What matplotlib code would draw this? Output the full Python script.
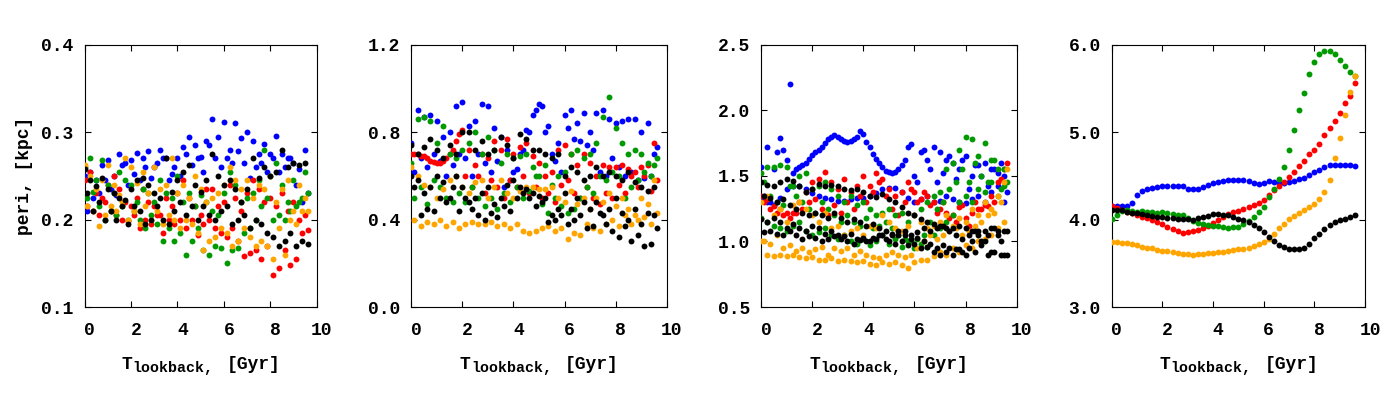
import matplotlib
matplotlib.use('Agg')
import matplotlib.pyplot as plt
from matplotlib import transforms
from matplotlib.ticker import FormatStrFormatter

# ---------------- time grids (Gyr) ----------------
TA = [0.0, 0.25, 0.5, 0.75, 1.0, 1.25, 1.5, 1.75, 2.0, 2.25,
      2.5, 2.75, 3.0, 3.25, 3.5, 3.75, 4.0, 4.25, 4.5, 4.75,
      5.0, 5.25, 5.5, 5.75, 6.0, 6.25, 6.5, 6.75, 7.0, 7.25,
      7.5, 7.75, 8.0, 8.25, 8.5, 8.75, 9.0, 9.25, 9.5]
TB = [0.12, 0.37, 0.62, 0.87, 1.12, 1.37, 1.62, 1.87, 2.12, 2.37,
      2.62, 2.87, 3.12, 3.37, 3.62, 3.87, 4.12, 4.37, 4.62, 4.87,
      5.12, 5.37, 5.62, 5.87, 6.12, 6.37, 6.62, 6.87, 7.12, 7.37,
      7.62, 7.87, 8.12, 8.37, 8.62, 8.87, 9.12, 9.37, 9.62]
T4 = [0.0, 0.2, 0.4, 0.6, 0.8, 1.0, 1.2, 1.4, 1.6, 1.8,
      2.0, 2.2, 2.4, 2.6, 2.8, 3.0, 3.2, 3.4, 3.6, 3.8,
      4.0, 4.2, 4.4, 4.6, 4.8, 5.0, 5.2, 5.4, 5.6, 5.8,
      6.0, 6.2, 6.4, 6.6, 6.8, 7.0, 7.2, 7.4, 7.6, 7.8,
      8.0, 8.2, 8.4, 8.6, 8.8, 9.0, 9.2, 9.4, 9.6]

# ---------------- panel 1 : peri [kpc] ----------------
P1_BLUE_A = [0.250,0.255,0.245,0.262,0.268,0.250,0.275,0.265,0.268,0.276,
             0.270,0.278,0.260,0.280,0.270,0.252,0.270,0.283,0.295,0.285,
             0.272,0.290,0.315,0.295,0.312,0.280,0.310,0.293,0.300,0.290,
             0.275,0.287,0.275,0.296,0.275,0.270,0.265,0.258,0.280]
P1_BLUE_B = [0.210,0.225,0.230,0.245,0.235,0.228,0.262,0.240,0.252,0.245,
             0.260,0.248,0.265,0.270,0.245,0.260,0.250,0.275,0.262,0.270,
             0.255,0.285,0.270,0.260,0.270,0.265,0.278,0.265,0.248,0.260,
             0.265,0.255,0.270,0.255,0.260,0.270,0.240,0.220,0.230]
P1_RED_A = [0.245,0.255,0.230,0.225,0.240,0.250,0.235,0.220,0.215,0.225,
            0.235,0.220,0.215,0.205,0.225,0.215,0.230,0.245,0.225,0.215,
            0.205,0.235,0.235,0.215,0.220,0.240,0.225,0.210,0.230,0.245,
            0.235,0.220,0.225,0.215,0.230,0.210,0.220,0.200,0.205]
P1_RED_B = [0.215,0.210,0.205,0.220,0.210,0.205,0.200,0.198,0.205,0.190,
            0.200,0.195,0.205,0.185,0.200,0.195,0.200,0.190,0.200,0.182,
            0.195,0.200,0.190,0.185,0.180,0.190,0.175,0.158,0.162,0.165,
            0.155,0.170,0.137,0.145,0.165,0.148,0.155,0.185,0.188]
P1_GREEN_A = [0.260,0.270,0.245,0.268,0.240,0.230,0.255,0.245,0.240,0.220,
              0.235,0.230,0.220,0.245,0.230,0.225,0.250,0.220,0.230,0.215,
              0.228,0.220,0.210,0.205,0.230,0.255,0.240,0.220,0.225,0.230,
              0.245,0.280,0.250,0.265,0.240,0.220,0.245,0.220,0.255]
P1_GREEN_B = [0.225,0.232,0.215,0.200,0.210,0.205,0.215,0.200,0.210,0.200,
              0.190,0.205,0.195,0.175,0.190,0.175,0.185,0.160,0.175,0.190,
              0.165,0.160,0.170,0.168,0.150,0.165,0.167,0.185,0.190,0.200,
              0.215,0.225,0.200,0.205,0.200,0.210,0.215,0.225,0.230]
P1_ORANGE_A = [0.262,0.250,0.235,0.245,0.262,0.240,0.228,0.270,0.260,0.242,
               0.255,0.230,0.260,0.235,0.240,0.270,0.230,0.240,0.225,0.250,
               0.235,0.220,0.225,0.230,0.240,0.260,0.245,0.235,0.245,0.225,
               0.240,0.235,0.250,0.220,0.235,0.245,0.210,0.240,0.225]
P1_ORANGE_B = [0.215,0.210,0.193,0.205,0.215,0.210,0.220,0.200,0.210,0.195,
               0.215,0.200,0.210,0.195,0.205,0.200,0.190,0.200,0.195,0.185,
               0.165,0.175,0.180,0.190,0.185,0.170,0.175,0.190,0.180,0.170,
               0.175,0.170,0.155,0.190,0.160,0.200,0.195,0.210,0.210]
P1_BLACK_A = [0.258,0.245,0.238,0.248,0.235,0.230,0.225,0.222,0.235,0.245,
              0.248,0.240,0.230,0.225,0.270,0.232,0.245,0.255,0.262,0.240,
              0.232,0.245,0.275,0.250,0.240,0.245,0.235,0.220,0.235,0.270,
              0.248,0.260,0.250,0.255,0.280,0.260,0.265,0.262,0.265]
P1_BLACK_B = [0.230,0.210,0.220,0.200,0.210,0.200,0.215,0.195,0.215,0.210,
              0.195,0.200,0.215,0.200,0.195,0.210,0.220,0.205,0.215,0.200,
              0.215,0.205,0.200,0.210,0.215,0.195,0.200,0.205,0.190,0.200,
              0.195,0.185,0.180,0.170,0.175,0.185,0.170,0.175,0.172]

# ---------------- panel 2 ----------------
P2_BLUE_A = [0.75,0.90,0.87,0.88,0.85,0.78,0.80,0.92,0.94,0.83,
             0.85,0.93,0.92,0.82,0.78,0.72,0.62,0.70,0.81,0.88,
             0.93,0.80,0.70,0.75,0.88,0.90,0.84,0.89,0.80,0.89,
             0.90,0.86,0.84,0.85,0.86,0.86,0.80,0.84,0.70]
P2_BLUE_B = [0.62,0.68,0.64,0.70,0.67,0.60,0.65,0.70,0.68,0.60,
             0.70,0.66,0.62,0.67,0.55,0.58,0.63,0.72,0.80,0.90,
             0.92,0.83,0.67,0.62,0.82,0.77,0.76,0.74,0.72,0.62,
             0.60,0.68,0.64,0.60,0.62,0.58,0.59,0.60,0.73]
P2_RED_A = [0.70,0.70,0.69,0.67,0.66,0.67,0.70,0.76,0.81,0.72,
            0.65,0.70,0.68,0.76,0.72,0.77,0.70,0.73,0.75,0.69,
            0.66,0.60,0.62,0.72,0.74,0.70,0.65,0.70,0.66,0.60,
            0.65,0.64,0.64,0.65,0.63,0.62,0.64,0.65,0.75]
P2_RED_B = [0.70,0.69,0.68,0.665,0.66,0.68,0.72,0.79,0.60,0.55,
            0.60,0.52,0.58,0.55,0.50,0.58,0.55,0.60,0.52,0.55,
            0.50,0.52,0.48,0.56,0.58,0.52,0.50,0.55,0.50,0.47,
            0.52,0.50,0.56,0.52,0.60,0.55,0.60,0.53,0.58]
P2_GREEN_A = [0.66,0.86,0.87,0.85,0.75,0.83,0.70,0.68,0.72,0.75,
              0.80,0.70,0.78,0.72,0.66,0.70,0.68,0.69,0.70,0.64,
              0.60,0.65,0.56,0.60,0.62,0.70,0.72,0.68,0.70,0.75,
              0.87,0.96,0.82,0.75,0.70,0.72,0.70,0.66,0.65]
P2_GREEN_B = [0.50,0.55,0.47,0.58,0.55,0.50,0.48,0.52,0.48,0.55,
              0.50,0.46,0.50,0.45,0.52,0.48,0.55,0.50,0.53,0.60,
              0.47,0.43,0.50,0.46,0.43,0.45,0.50,0.55,0.52,0.60,
              0.58,0.62,0.60,0.50,0.55,0.58,0.62,0.60,0.68]
P2_ORANGE_A = [0.64,0.60,0.56,0.55,0.50,0.54,0.58,0.60,0.55,0.52,
               0.57,0.58,0.50,0.55,0.58,0.52,0.50,0.53,0.55,0.55,
               0.54,0.54,0.55,0.50,0.48,0.53,0.47,0.50,0.45,0.50,
               0.48,0.52,0.46,0.50,0.45,0.42,0.50,0.47,0.58]
P2_ORANGE_B = [0.40,0.37,0.39,0.38,0.40,0.37,0.39,0.36,0.38,0.39,
               0.38,0.38,0.39,0.37,0.38,0.36,0.38,0.35,0.34,0.35,
               0.36,0.37,0.35,0.36,0.31,0.34,0.33,0.38,0.36,0.35,
               0.38,0.40,0.37,0.42,0.38,0.40,0.41,0.38,0.43]
P2_BLACK_A = [0.74,0.70,0.73,0.77,0.72,0.68,0.74,0.70,0.80,0.80,
              0.72,0.76,0.70,0.72,0.78,0.74,0.68,0.79,0.77,0.72,
              0.72,0.70,0.68,0.70,0.60,0.64,0.62,0.58,0.60,0.64,
              0.60,0.62,0.60,0.58,0.62,0.57,0.55,0.53,0.55]
P2_BLACK_B = [0.55,0.42,0.45,0.44,0.50,0.48,0.55,0.44,0.50,0.45,
              0.42,0.40,0.43,0.41,0.46,0.44,0.50,0.52,0.50,0.46,
              0.48,0.39,0.40,0.42,0.38,0.40,0.42,0.36,0.37,0.43,
              0.38,0.35,0.32,0.37,0.30,0.33,0.28,0.29,0.36]
P2_BLACK_C = [0.60,0.58,0.52,0.55,0.60,0.57,0.50,0.60,0.55,0.48,
              0.50,0.52,0.55,0.47,0.50,0.56,0.58,0.55,0.54,0.52,
              0.51,0.50,0.42,0.45,0.52,0.45,0.50,0.48,0.45,0.48,
              0.42,0.45,0.50,0.43,0.40,0.45,0.38,0.43,0.42]

# ---------------- panel 3 ----------------
P3_BLUE_A = [1.57,1.72,1.55,1.79,1.62,1.52,1.57,1.60,1.66,1.70,
             1.75,1.80,1.80,1.77,1.77,1.80,1.82,1.72,1.63,1.57,
             1.53,1.53,1.58,1.72,1.50,1.68,1.62,1.72,1.68,1.62,
             1.60,1.55,1.65,1.50,1.58,1.60,1.55,1.52,1.50]
P3_BLUE_B = [1.35,1.30,1.68,1.70,2.20,1.55,1.58,1.63,1.68,1.72,
             1.78,1.81,1.78,1.76,1.78,1.84,1.76,1.67,1.60,1.54,
             1.52,1.55,1.62,1.74,1.45,1.70,1.55,1.45,1.52,1.65,
             1.48,1.62,1.40,1.58,1.50,1.42,1.55,1.60,1.38]
P3_BLUE_C = [1.32,1.30,1.28,1.33,1.40,1.42,1.42,1.40,1.37,1.35,
             1.33,1.32,1.31,1.31,1.32,1.33,1.33,1.35,1.37,1.40,
             1.41,1.41,1.38,1.33,1.30,1.32,1.35,1.30,1.31,1.35,
             1.32,1.30,1.29,1.32,1.35,1.30,1.38,1.42,1.30]
P3_RED_A = [1.35,1.32,1.27,1.25,1.22,1.22,1.30,1.38,1.45,1.48,
            1.53,1.45,1.40,1.48,1.38,1.42,1.50,1.42,1.52,1.48,
            1.40,1.35,1.38,1.45,1.38,1.32,1.35,1.30,1.25,1.22,
            1.20,1.26,1.18,1.22,1.25,1.28,1.35,1.45,1.55]
P3_RED_B = [1.30,1.25,1.22,1.20,1.18,1.22,1.25,1.30,1.32,1.25,
            1.20,1.28,1.22,1.30,1.25,1.35,1.30,1.38,1.45,1.35,
            1.25,1.20,1.30,1.40,1.30,1.38,1.28,1.22,1.30,1.18,
            1.15,1.28,1.12,1.30,1.25,1.27,1.30,1.48,1.60]
P3_GREEN_A = [1.52,1.57,1.57,1.58,1.57,1.42,1.50,1.52,1.40,1.42,
              1.45,1.40,1.35,1.30,1.35,1.28,1.30,1.25,1.20,1.22,
              1.25,1.20,1.22,1.15,1.20,1.25,1.30,1.35,1.38,1.55,
              1.60,1.70,1.80,1.78,1.65,1.75,1.62,1.55,1.55]
P3_GREEN_B = [1.45,1.35,1.30,1.28,1.42,1.35,1.30,1.25,1.22,1.30,
              1.25,1.20,1.15,1.20,1.15,1.12,1.18,1.10,1.12,1.15,
              1.10,1.05,1.02,1.00,1.02,1.05,1.15,1.25,1.30,1.40,
              1.45,1.55,1.45,1.60,1.50,1.45,1.62,1.40,1.45]
P3_GREEN_C = [1.18,1.15,1.12,1.10,1.08,1.12,1.15,1.08,1.05,1.07,
              1.10,1.05,1.02,1.05,1.00,0.98,1.02,0.97,1.00,1.05,
              0.98,1.02,0.96,1.00,0.95,0.98,0.96,1.05,1.10,1.15,
              1.20,1.30,1.35,1.30,1.40,1.38,1.45,1.35,1.42]
P3_ORANGE_A = [1.00,0.90,0.89,0.90,0.89,0.90,0.88,0.87,0.88,0.86,
               0.86,0.87,0.85,0.86,0.85,0.84,0.85,0.83,0.82,0.84,
               0.83,0.84,0.82,0.80,0.84,0.86,0.86,0.89,0.92,0.90,
               0.95,0.92,0.97,0.95,1.00,1.02,1.05,1.10,1.15]
P3_ORANGE_B = [1.00,0.98,1.05,0.95,0.97,0.93,0.95,0.92,0.94,0.96,
               0.90,0.95,0.93,0.95,0.90,0.93,0.90,0.88,0.87,0.90,
               0.92,0.90,0.88,0.90,0.95,1.00,1.05,1.02,1.05,1.08,
               1.10,1.05,1.08,1.12,1.15,1.20,1.22,1.30,1.55]
P3_ORANGE_C = [1.30,1.35,1.20,1.25,1.15,1.28,1.30,1.25,1.20,1.15,
               1.22,1.10,1.12,1.05,1.08,1.10,1.05,1.12,1.10,1.20,
               1.15,1.10,1.08,1.12,1.20,1.15,1.10,1.12,1.15,1.20,
               1.12,1.18,1.15,1.25,1.20,1.30,1.25,1.35,1.45]
P3_BLACK_A = [1.45,1.43,1.42,1.45,1.48,1.46,1.42,1.38,1.40,1.44,
              1.42,1.43,1.42,1.40,1.39,1.40,1.38,1.35,1.34,1.36,
              1.32,1.30,1.26,1.22,1.20,1.17,1.15,1.13,1.12,1.10,
              1.10,1.12,1.10,1.08,1.05,1.08,1.10,1.05,1.08]
P3_BLACK_B = [1.35,1.33,1.30,1.32,1.28,1.25,1.22,1.20,1.22,1.20,
              1.18,1.22,1.18,1.15,1.17,1.15,1.12,1.13,1.10,1.08,
              1.05,1.08,1.05,1.02,1.03,1.00,0.98,0.95,0.97,0.95,
              0.94,0.92,0.95,0.92,0.97,0.90,0.92,0.90,0.90]
P3_BLACK_C = [1.17,1.15,1.18,1.15,1.10,1.13,1.10,1.08,1.12,1.10,
              1.06,1.08,1.05,1.04,1.06,1.02,1.03,1.00,1.02,1.05,
              1.00,0.98,1.00,0.97,0.98,0.95,0.96,0.92,0.90,0.92,
              0.90,0.94,0.90,1.00,1.08,1.00,0.92,1.08,0.90]
P3_BLACK_D = [1.07,1.08,1.06,1.05,1.08,1.05,1.02,1.04,1.03,1.00,
              1.02,1.04,1.02,1.00,0.98,1.01,1.00,1.03,1.05,1.02,
              1.06,1.05,1.08,1.05,1.07,1.10,1.08,1.10,1.12,1.08,
              1.05,1.02,1.05,1.08,1.00,1.05,1.10,1.00,1.08]

# ---------------- panel 4 ----------------
P4_BLUE = [4.150,4.160,4.160,4.160,4.190,4.280,4.330,4.355,4.365,4.375,
           4.385,4.390,4.390,4.385,4.380,4.355,4.345,4.355,4.375,4.395,
           4.420,4.430,4.445,4.450,4.455,4.458,4.455,4.440,4.420,4.405,
           4.420,4.440,4.430,4.415,4.420,4.430,4.440,4.460,4.480,4.510,
           4.540,4.570,4.600,4.620,4.630,4.630,4.625,4.620,4.610]
P4_RED = [4.150,4.130,4.115,4.090,4.070,4.050,4.035,4.020,4.000,3.970,
          3.945,3.920,3.890,3.865,3.850,3.855,3.870,3.885,3.905,3.930,
          3.965,4.000,4.035,4.065,4.085,4.100,4.120,4.145,4.165,4.190,
          4.225,4.280,4.340,4.380,4.430,4.490,4.550,4.610,4.670,4.745,
          4.800,4.870,4.970,5.050,5.130,5.220,5.330,5.410,5.560]
P4_GREEN = [4.010,4.050,4.100,4.110,4.100,4.090,4.095,4.085,4.090,4.080,
            4.085,4.070,4.065,4.055,4.050,4.020,3.980,3.960,3.945,3.935,
            3.930,3.925,3.915,3.905,3.910,3.920,3.945,3.980,4.030,4.090,
            4.145,4.260,4.350,4.460,4.600,4.800,5.020,5.250,5.450,5.670,
            5.800,5.890,5.930,5.930,5.890,5.830,5.760,5.690,5.640]
P4_ORANGE = [3.745,3.740,3.730,3.730,3.720,3.705,3.690,3.680,3.670,3.655,
             3.645,3.640,3.630,3.620,3.610,3.605,3.600,3.605,3.610,3.615,
             3.620,3.630,3.635,3.645,3.655,3.660,3.665,3.675,3.700,3.725,
             3.740,3.775,3.840,3.900,3.955,4.010,4.045,4.075,4.105,4.140,
             4.180,4.230,4.320,4.450,4.700,4.930,5.200,5.460,5.640]
P4_BLACK = [4.110,4.115,4.110,4.090,4.080,4.070,4.060,4.055,4.045,4.035,
            4.025,4.020,4.015,4.010,4.010,4.005,4.000,4.015,4.030,4.045,
            4.060,4.060,4.055,4.050,4.025,4.010,3.995,3.970,3.935,3.900,
            3.855,3.800,3.755,3.715,3.685,3.665,3.660,3.665,3.680,3.725,
            3.790,3.840,3.890,3.935,3.970,3.995,4.010,4.035,4.050]

YTICKS = [[0.1, 0.2, 0.3, 0.4], [0.0, 0.4, 0.8, 1.2],
          [0.5, 1.0, 1.5, 2.0, 2.5], [3.0, 4.0, 5.0, 6.0]]
XTICKS = [0, 2, 4, 6, 8, 10]
YLABEL = 'peri, [kpc]'
XLABEL_MAIN = 'T'
XLABEL_SUB = 'lookback,'
XLABEL_UNIT = '[Gyr]'

COL = {'blue': '#0000ff', 'red': '#ff0000', 'green': '#009a00',
       'orange': '#ffa500', 'black': '#000000'}

# ---------------- styling ----------------
plt.rcParams['font.family'] = ['Liberation Mono', 'DejaVu Sans Mono']
plt.rcParams['font.weight'] = 'bold'
plt.rcParams['font.size'] = 13

panels = [
    [('blue', TA, P1_BLUE_A), ('blue', TB, P1_BLUE_B),
     ('red', TA, P1_RED_A), ('red', TB, P1_RED_B),
     ('green', TA, P1_GREEN_A), ('green', TB, P1_GREEN_B),
     ('orange', TA, P1_ORANGE_A), ('orange', TB, P1_ORANGE_B),
     ('black', TA, P1_BLACK_A), ('black', TB, P1_BLACK_B)],
    [('blue', TA, P2_BLUE_A), ('blue', TB, P2_BLUE_B),
     ('red', TA, P2_RED_A), ('red', TB, P2_RED_B),
     ('green', TA, P2_GREEN_A), ('green', TB, P2_GREEN_B),
     ('orange', TA, P2_ORANGE_A), ('orange', TB, P2_ORANGE_B),
     ('black', TA, P2_BLACK_A), ('black', TB, P2_BLACK_B), ('black', TA, P2_BLACK_C)],
    [('blue', TA, P3_BLUE_A), ('blue', TB, P3_BLUE_B), ('blue', TA, P3_BLUE_C),
     ('red', TA, P3_RED_A), ('red', TB, P3_RED_B),
     ('green', TA, P3_GREEN_A), ('green', TB, P3_GREEN_B), ('green', TA, P3_GREEN_C),
     ('orange', TA, P3_ORANGE_A), ('orange', TB, P3_ORANGE_B), ('orange', TA, P3_ORANGE_C),
     ('black', TA, P3_BLACK_A), ('black', TB, P3_BLACK_B),
     ('black', TA, P3_BLACK_C), ('black', TB, P3_BLACK_D)],
    [('blue', T4, P4_BLUE), ('red', T4, P4_RED), ('green', T4, P4_GREEN),
     ('orange', T4, P4_ORANGE), ('black', T4, P4_BLACK)],
]

rects = [[0.0605, 0.2325, 0.1657, 0.6555],
         [0.2938, 0.2325, 0.1824, 0.6555],
         [0.5436, 0.2325, 0.1826, 0.6555],
         [0.7941, 0.2325, 0.1809, 0.6555]]

fig = plt.figure(figsize=(14, 4), dpi=100)
shift = transforms.ScaledTranslation(0.05, 0, fig.dpi_scale_trans)


def px_offset(ax, dx, dy):
    return ax.transAxes + transforms.ScaledTranslation(dx / 100.0, dy / 100.0,
                                                       fig.dpi_scale_trans)


for i, (rect, series) in enumerate(zip(rects, panels)):
    ax = fig.add_axes(rect)
    for cname, xs, ys in series:
        ax.scatter(xs, ys, s=18, c=COL[cname], linewidths=0, zorder=3)
    ax.set_xlim(0, 10)
    yt = YTICKS[i]
    ax.set_ylim(yt[0], yt[-1])
    ax.set_xticks(XTICKS)
    ax.set_yticks(yt)
    ax.yaxis.set_major_formatter(FormatStrFormatter('%.1f'))
    ax.tick_params(direction='in', length=4.3, width=0.8, top=True, right=True,
                   labelsize=13)
    ax.tick_params(axis='x', pad=11)
    ax.tick_params(axis='y', pad=8)
    for sp in ax.spines.values():
        sp.set_linewidth(0.8)
    for lab in ax.get_xticklabels():
        lab.set_transform(lab.get_transform() + shift)
        lab.set_fontweight('bold')
    for lab in ax.get_yticklabels():
        lab.set_fontweight('bold')
    # x label: "T" with subscript "lookback," followed by "[Gyr]"
    yb = -0.2375
    ax.text(0.5, yb, XLABEL_MAIN, transform=px_offset(ax, -79, 0),
            ha='left', va='baseline', fontsize=13, fontweight='bold')
    ax.text(0.5, yb, XLABEL_SUB, transform=px_offset(ax, -68, -2.4),
            ha='left', va='baseline', fontsize=10.8, fontweight='bold')
    ax.text(0.5, yb, XLABEL_UNIT, transform=px_offset(ax, 26, 0),
            ha='left', va='baseline', fontsize=13, fontweight='bold')
    if i == 0:
        ax.text(-0.26, 0.5, YLABEL, transform=ax.transAxes,
                rotation=90, ha='center', va='center', fontsize=13,
                fontweight='bold')

fig.savefig('out.png', dpi=100)
